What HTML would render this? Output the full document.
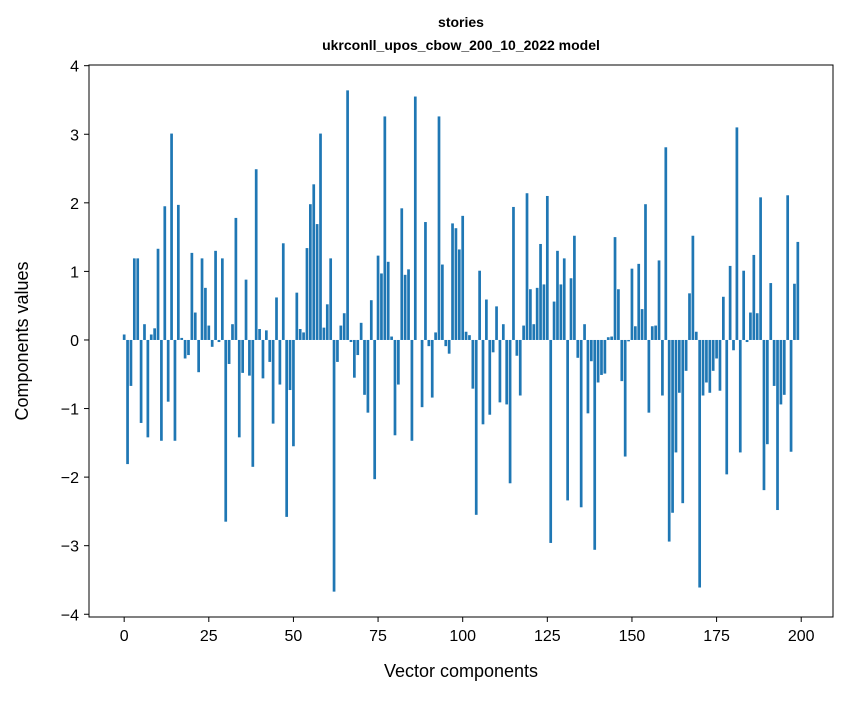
<!DOCTYPE html>
<html><head><meta charset="utf-8"><style>
body{margin:0;background:#fff;}
svg text{font-family:"Liberation Sans","DejaVu Sans",sans-serif;fill:#000;}
</style></head><body>
<svg id="chart" width="847" height="696" xmlns="http://www.w3.org/2000/svg">
<rect width="847" height="696" fill="#fff"/>
<text x="461" y="27" font-size="14" font-weight="bold" text-anchor="middle">stories</text>
<text x="461" y="50" font-size="14" font-weight="bold" text-anchor="middle">ukrconll_upos_cbow_200_10_2022 model</text>
<g id="bars"></g>
<g id="axes"></g>
<text x="461" y="677" font-size="18" text-anchor="middle">Vector components</text>
<text transform="translate(28,341) rotate(-90)" font-size="18" text-anchor="middle">Components values</text>
</svg>
<script>
const values = [0.08,-1.81,-0.67,1.19,1.19,-1.21,0.23,-1.42,0.08,0.17,1.33,-1.47,1.95,-0.9,3.01,-1.47,1.97,0.03,-0.27,-0.22,
1.27,0.4,-0.47,1.19,0.76,0.21,-0.1,1.3,-0.03,1.19,-2.65,-0.35,0.23,1.78,-1.42,-0.48,0.88,-0.52,-1.85,2.49,
0.16,-0.56,0.14,-0.32,-1.22,0.62,-0.65,1.41,-2.58,-0.73,-1.55,0.69,0.16,0.11,1.34,1.98,2.27,1.69,3.01,0.18,
0.52,1.19,-3.67,-0.32,0.21,0.39,3.64,-0.03,-0.55,-0.22,0.25,-0.8,-1.06,0.58,-2.03,1.23,0.97,3.26,1.14,0.05,
-1.39,-0.65,1.92,0.95,1.03,-1.47,3.55,0,-0.98,1.72,-0.09,-0.84,0.11,3.26,1.1,-0.09,-0.2,1.7,1.63,1.32,
1.81,0.12,0.07,-0.71,-2.55,1.01,-1.23,0.59,-1.09,-0.18,0.49,-0.91,0.23,-0.94,-2.09,1.94,-0.23,-0.81,0.21,2.14,
0.74,0.23,0.76,1.4,0.81,2.1,-2.96,0.56,1.3,0.81,1.19,-2.34,0.9,1.52,-0.26,-2.44,0.23,-1.07,-0.31,-3.06,
-0.62,-0.51,-0.49,0.04,0.05,1.5,0.74,-0.6,-1.7,-0.02,1.04,0.2,1.11,0.45,1.98,-1.06,0.2,0.21,1.16,-0.81,
2.81,-2.94,-2.52,-1.64,-0.77,-2.38,-0.45,0.68,1.52,0.12,-3.61,-0.81,-0.62,-0.77,-0.45,-0.27,-0.74,0.63,-1.96,1.08,
-0.15,3.1,-1.64,1.01,-0.03,0.4,1.24,0.39,2.08,-2.19,-1.52,0.83,-0.67,-2.48,-0.94,-0.8,2.11,-1.63,0.82,1.43];
const xTicks = [0,25,50,75,100,125,150,175,200];
const yTicks = [-4,-3,-2,-1,0,1,2,3,4];
const NS='http://www.w3.org/2000/svg';
const L=89,R=833,T=65,B=617;
const xMin=-10.39,xMax=209.39,yMin=-4.04,yMax=4.01;
function sx(v){return L+(v-xMin)/(xMax-xMin)*(R-L);}
function sy(v){return B-(v-yMin)/(yMax-yMin)*(B-T);}
const bars=document.getElementById('bars');
values.forEach((v,i)=>{
  const r=document.createElementNS(NS,'rect');
  const x0=sx(i-0.4),x1=sx(i+0.4);
  r.setAttribute('x',x0);r.setAttribute('width',x1-x0);
  r.setAttribute('y',Math.min(sy(v),sy(0)));r.setAttribute('height',Math.abs(sy(v)-sy(0)));
  r.setAttribute('fill','#1f77b4');
  
  
  bars.appendChild(r);
});
const ax=document.getElementById('axes');
const frame=document.createElementNS(NS,'rect');
frame.setAttribute('x',L);frame.setAttribute('y',T);frame.setAttribute('width',R-L);frame.setAttribute('height',B-T);
frame.setAttribute('fill','none');frame.setAttribute('stroke','#000');frame.setAttribute('stroke-width','1');


ax.appendChild(frame);
xTicks.forEach(t=>{
  const x=sx(t);
  const l=document.createElementNS(NS,'line');
  l.setAttribute('x1',x);l.setAttribute('x2',x);l.setAttribute('y1',B);l.setAttribute('y2',B+5);l.setAttribute('stroke','#000');
  
  
  ax.appendChild(l);
  const tx=document.createElementNS(NS,'text');
  tx.setAttribute('x',x);tx.setAttribute('y',B+24);tx.setAttribute('font-size','16');tx.setAttribute('text-anchor','middle');
  tx.textContent=t;
  
  
  ax.appendChild(tx);
});
yTicks.forEach(t=>{
  const y=sy(t);
  const l=document.createElementNS(NS,'line');
  l.setAttribute('x1',L-5);l.setAttribute('x2',L);l.setAttribute('y1',y);l.setAttribute('y2',y);l.setAttribute('stroke','#000');
  
  
  ax.appendChild(l);
  const tx=document.createElementNS(NS,'text');
  tx.setAttribute('x',L-10);tx.setAttribute('y',y+6);tx.setAttribute('font-size','16');tx.setAttribute('text-anchor','end');
  tx.textContent=t<0?'\u2212'+Math.abs(t):String(t);
  
  
  ax.appendChild(tx);
});
</script>
</body></html>
